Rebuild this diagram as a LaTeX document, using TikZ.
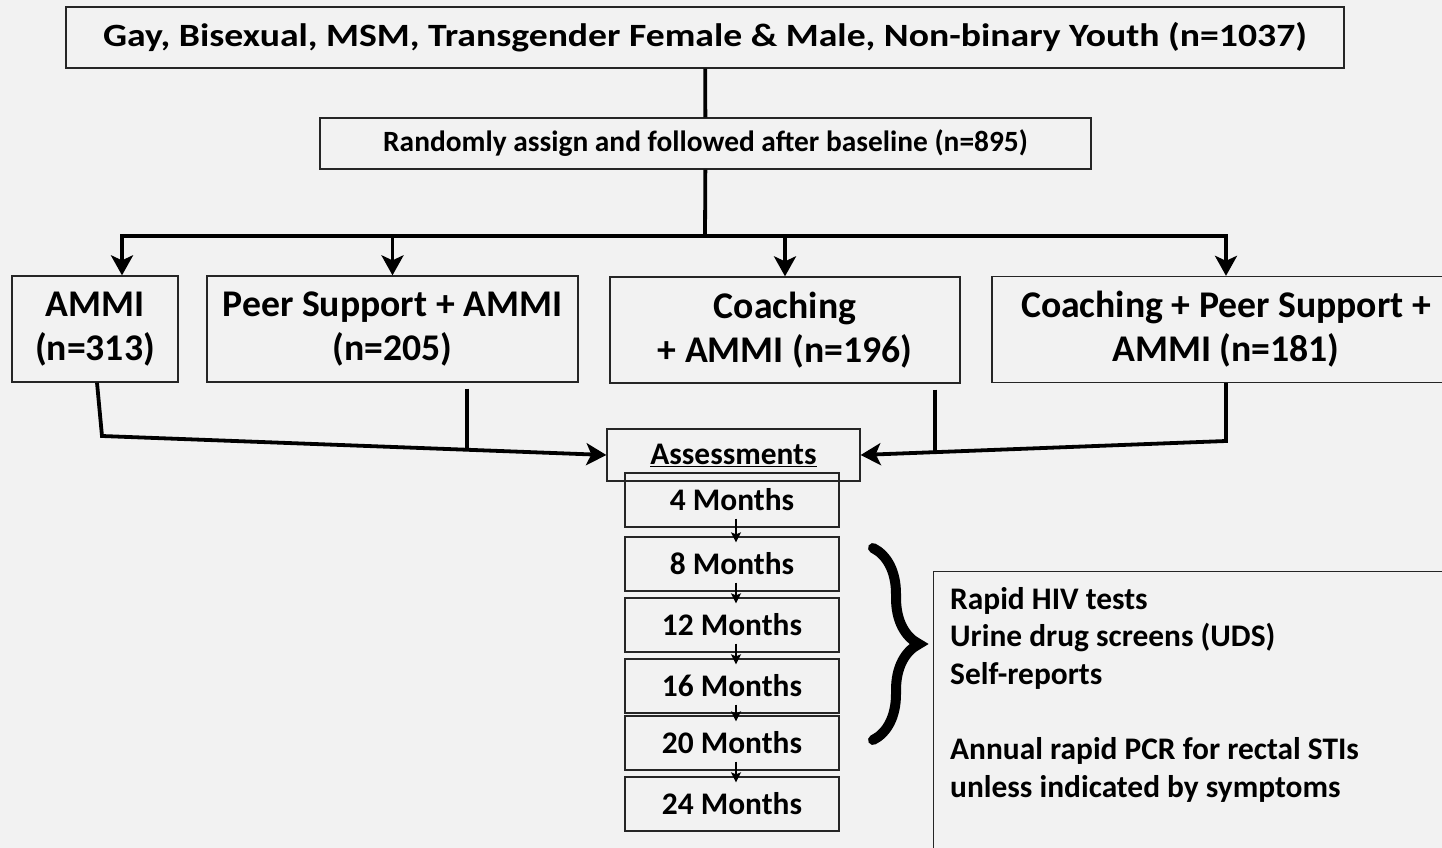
\documentclass[tikz,border=0pt]{standalone}
\usepackage{fontspec}
\setmainfont{Carlito}
\newfontfamily\widefont{Carlito}[FakeStretch=1.16]
\usetikzlibrary{arrows.meta,decorations.pathreplacing}
\definecolor{pagegray}{HTML}{F2F2F2}
\definecolor{boxline}{HTML}{262626}

\begin{document}
\begin{tikzpicture}[x=1pt,y=-1pt,
    box/.style={draw=boxline,line width=1.3pt,inner sep=0pt,align=center},
    link/.style={draw=black,line width=3.8pt},
    thinlink/.style={draw=black,line width=1.4pt},
    bigtip/.style={-{Stealth[length=20pt,width=22pt,inset=5pt]}},
    smalltip/.style={-{Stealth[length=10pt,width=10pt,inset=2pt]}}]
    \pgfmathsetmacro{\groupheight}{106}
    \pgfmathsetmacro{\monthwidth}{214}
    \pgfmathsetmacro{\monthheight}{54}
    \providecommand{\titlefontsize}{\widefont\fontsize{32.5}{38}\selectfont\bfseries}
    \providecommand{\randfontsize}{\fontsize{29.4}{34}\selectfont\bfseries}
    \providecommand{\groupfontsize}{\fontsize{37.7}{44}\selectfont\bfseries}
    \providecommand{\textfontsize}{\fontsize{31.4}{37.6}\selectfont\bfseries}
    \fill[pagegray] (0,0) rectangle (1442,848);
    \useasboundingbox (0,0) rectangle (1442,848);
    \clip (0,0) rectangle (1442,848);
    \node[box,minimum width=1278,minimum height=61,font=\titlefontsize] (youth) at (705,37.5)
        {Gay, Bisexual, MSM, Transgender Female \& Male, Non-binary Youth (n=1037)};
    \node[box,minimum width=771,minimum height=51,font=\randfontsize] (rand) at (705.5,143.5)
        {Randomly assign and followed after baseline (n=895)};
    % the four arms
    \node[box,minimum width=166,minimum height=\groupheight,font=\groupfontsize] (ammi) at (95,329) {AMMI\\(n=313)};
    \node[box,minimum width=371,minimum height=\groupheight,font=\groupfontsize] (peer) at (392.5,329) {Peer Support + AMMI\\(n=205)};
    \node[box,minimum width=350,minimum height=\groupheight,font=\groupfontsize] (coach) at (785,330) {Coaching\\+ AMMI (n=196)};
    \node[box,minimum width=468,minimum height=\groupheight,font=\groupfontsize] (cps) at (1226,329.5) {Coaching + Peer Support +\\AMMI (n=181)};
    % assessments
    \node[box,minimum width=253,minimum height=52,font=\textfontsize] (assess) at (733.5,455) {\underline{Assessments}};
    \foreach \m/\y in {4/500,8/564,12/625,16/686,20/743,24/804}
        \node[box,minimum width=\monthwidth,minimum height=\monthheight,font=\textfontsize] (m\m) at (732,\y) {\m\ Months};
    \foreach \a/\b in {m4/m8,m8/m12,m12/m16,m16/m20,m20/m24}
        \draw[thinlink,smalltip] ([xshift=4pt,yshift=9pt]\a.south) -- ([xshift=4pt,yshift=-6pt]\b.north);
    \node[box,minimum width=530,minimum height=300,anchor=north west] (info) at (933,571) {};
    \node[anchor=north west,align=left,inner sep=0pt,font=\textfontsize] (infotext) at (950,587)
        {Rapid HIV tests\\Urine drug screens (UDS)\\Self-reports\\[37.6pt]Annual rapid PCR for rectal STIs\\unless indicated by symptoms};
    \coordinate (bracetop) at (873,548);
    \coordinate (bracebot) at (873,740);
    \draw[decorate,decoration={brace,amplitude=46pt},line width=10pt,line cap=round] (bracetop) -- (bracebot);
    % connectors
    \coordinate (split) at (705,236);
    \draw[link] (youth) -- (rand);
    \draw[link] (rand) -- (split);
    \draw[link,bigtip] (split) -| ([xshift=27pt]ammi.north);
    \draw[link,bigtip] (split) -| (cps.north);
    \draw[link,bigtip] (peer.north |- split) -- (peer.north);
    \draw[link,bigtip] (coach.north |- split) -- (coach.north);
    \coordinate (lbend) at (102,436);
    \coordinate (rbend) at (1226,441);
    \coordinate (pjoin) at (467,450);
    \coordinate (cjoin) at (935,452);
    \draw[link,bigtip] ([xshift=2pt]ammi.south) -- (lbend) -- (assess.west);
    \draw[link,bigtip] (cps.south) -- (rbend) -- (assess.east);
    \draw[link] ([xshift=74.5pt,yshift=-6pt]peer.south) -- (pjoin);
    \draw[link] ([xshift=150pt,yshift=-6pt]coach.south) -- (cjoin);
\end{tikzpicture}
\end{document}
